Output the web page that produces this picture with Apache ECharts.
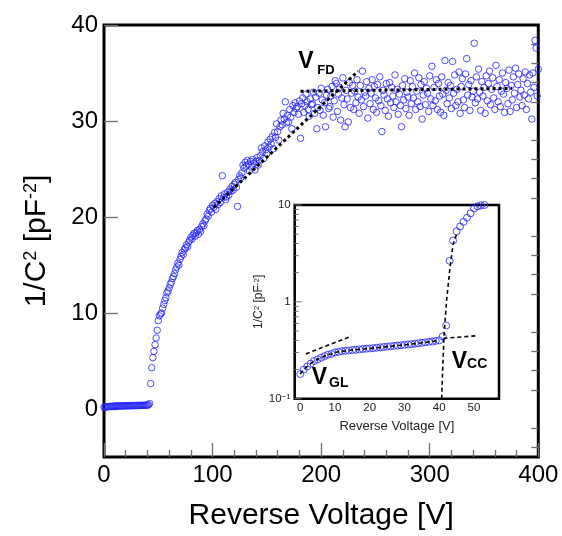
<!DOCTYPE html>
<html><head><meta charset="utf-8">
<script src="https://cdn.jsdelivr.net/npm/echarts@6/dist/echarts.min.js"></script>
<style>html,body{margin:0;padding:0;background:#fff}#c{width:562px;height:536px}</style>
</head><body><div id="c"></div>
<script>
// ---- measured 1/C^2 values, one per volt of the reverse-voltage sweep ----
const sweepStart = 0;   // V
const sweepStep = 1;    // V
// 0 .. 42 V
const capLow = [
  0.18,0.20,0.215,0.23,0.245,0.255,0.265,0.275,0.285,0.29,
  0.30,0.305,0.31,0.312,0.315,0.318,0.32,0.323,0.326,0.328,
  0.33,0.333,0.336,0.339,0.342,0.345,0.348,0.351,0.354,0.357,
  0.36,0.363,0.366,0.37,0.374,0.378,0.382,0.386,0.39,0.395,
  0.40,0.44,0.57
];
// 43 .. 100 V
const capRise = [
  2.65,4.3,5.35,6.0,6.7,7.4,8.2,
  9.2,9.7,9.9,10.0,10.5,10.9,11.3,11.6,12.1,12.3,
  12.6,13.0,13.2,13.6,13.8,14.1,14.5,14.8,15.2,15.0,
  15.6,15.9,16.3,16.1,16.6,16.8,17.1,16.9,17.4,17.6,
  17.9,17.7,18.1,18.3,18.0,18.4,18.6,18.2,18.7,18.5,
  19.0,19.3,19.1,19.6,19.8,20.3,20.1,20.7,20.9,20.5,
  21.2
];
// 101 .. 180 V
const capKnee = [
  21.0,21.4,20.8,21.6,21.3,21.9,21.5,22.2,24.3,
  22.0,22.4,21.8,22.1,22.6,22.3,22.9,22.7,23.2,22.8,
  23.4,23.6,23.1,21.1,23.9,24.3,24.1,24.6,25.4,25.1,
  25.7,25.3,25.9,25.5,24.8,25.8,25.2,26.0,25.6,24.9,
  25.8,26.2,25.4,25.9,26.4,27.2,26.8,26.1,27.4,27.0,
  26.6,27.8,27.3,28.1,27.6,28.4,27.1,28.8,28.3,29.7,
  28.9,28.0,29.4,30.1,29.6,30.8,30.2,32.0,29.8,30.6,
  29.9,31.2,30.4,29.2,31.6,30.9,31.9,31.3,31.5,30.7,
  32.1
];
// 181 .. 300 V
const capPlateau = [
  28.2,31.8,32.4,30.9,31.6,32.8,32.0,31.2,30.5,
  32.3,31.7,31.8,33.0,30.8,32.5,29.2,31.4,32.9,31.1,
  33.4,32.2,30.6,31.9,29.4,32.7,33.3,31.3,31.5,32.6,
  33.6,30.4,32.1,34.2,33.9,31.0,32.8,33.5,30.1,32.4,
  34.5,31.7,29.4,33.2,32.3,29.9,34.0,31.4,32.9,33.7,
  31.2,33.1,31.9,34.3,32.5,30.8,33.7,32.2,35.2,31.5,
  33.0,32.6,34.1,30.3,33.4,31.8,32.9,34.3,31.2,33.6,
  32.4,30.9,33.8,32.1,34.6,31.6,28.9,33.2,32.7,31.1,
  33.9,32.3,30.5,34.0,31.9,33.5,32.6,31.4,34.8,32.0,
  33.3,30.7,32.8,31.6,29.4,33.7,32.2,34.4,31.3,33.0,
  32.5,30.6,34.2,31.8,33.6,32.4,35.0,31.2,33.1,32.0,
  34.5,31.5,33.8,30.2,32.7,34.1,31.7,33.4,32.9,31.0,
  34.7
];
// 301 .. 400 V
const capTail = [
  32.3,35.7,31.6,33.5,32.1,34.3,31.2,33.9,32.6,
  30.9,34.6,32.8,30.6,36.3,33.2,31.8,34.0,32.4,33.7,
  31.3,36.2,32.9,34.8,31.6,33.3,32.0,35.1,30.8,33.6,
  34.4,32.2,31.4,34.9,36.5,32.7,33.8,31.1,34.2,32.5,
  33.1,38.1,31.9,34.6,32.3,35.4,33.0,31.1,34.1,32.6,
  33.5,30.8,34.7,32.1,33.9,35.2,31.7,33.3,34.5,32.4,
  31.2,35.8,33.6,32.0,34.3,31.5,33.1,35.0,32.8,30.9,
  34.0,33.4,31.8,35.3,31.0,33.7,32.2,34.6,32.9,35.5,
  31.4,33.8,34.9,32.5,33.2,31.6,34.4,32.7,35.1,31.2,
  33.9,32.3,34.8,33.0,30.2,35.0,33.5,38.4,37.6,32.6,
  35.4
];

// ---- fit / guide lines ----
const fdRiseX = [101, 234],  fdRiseY = [21.0, 35.2];
const fdFlatX = [181, 376],  fdFlatY = [33.1, 33.4];
const glFitX  = [1.6, 14.8], glFitY  = [0.29, 0.444];
const ccFlatX = [41.2, 50.8], ccFlatY = [0.42, 0.447];
const ccRiseX = [40.7, 41.0, 41.4, 42.1, 43.1, 44.0, 45.0];
const ccRiseY = [0.1, 0.21, 0.46, 1.02, 2.27, 3.96, 5.0];
const alongFitEnd = 40; // V, dashed line following data in inset

// ---- ticks ----
const mainYLabels = [0, 10, 20, 30, 40];
const mainYMinor = [-4,-2,2,4,6,8,12,14,16,18,22,24,26,28,32,34,36,38];
const insetXLabels = [0, 10, 20, 30, 40, 50];
const insetXTicks = [0,2,4,6,8,10,12,14,16,18,20,22,24,26,28,30,32,34,36,38,40,42,44,46,48,50,52,54,56];
const insetYMajor = [0.1, 1, 10];
const insetYMinor = [0.2,0.3,0.4,0.5,0.6,0.7,0.8,0.9,2,3,4,5,6,7,8,9];
const insetXMin = -1.6, insetXMax = 57.2;

// ---- build ----
const capAll = capLow.concat(capRise, capKnee, capPlateau, capTail);
const mainPoints = capAll.map((c, i) => [sweepStart + i * sweepStep, c]);
const insetPoints = mainPoints.filter(p => p[0] <= 57);
const alongPoints = mainPoints.filter(p => p[0] <= alongFitEnd);
const zip = (xs, ys) => xs.map((x, i) => [x, ys[i]]);

const FONT = 'Liberation Sans, Arial, sans-serif';
const blue = '#2222ff';
const tickGrey = '#6e6e6e';

const chart = echarts.init(document.getElementById('c'), null, {renderer: 'canvas'});

const tickSeriesData = insetYMajor.map(v => [insetXMin, v, 7]).concat(insetYMinor.map(v => [insetXMin, v, 4]));

chart.setOption({
  animation: false,
  backgroundColor: '#fff',
  textStyle: {fontFamily: FONT},
  grid: [
    {left: 104, top: 25, width: 434.3, height: 433, show: true, borderColor: '#000', borderWidth: 3, backgroundColor: 'transparent'},
    {left: 294.7, top: 205, width: 204.3, height: 193.7, show: true, borderColor: '#000', borderWidth: 2.5, backgroundColor: '#fff', z: 3}
  ],
  xAxis: [
    {gridIndex: 0, type: 'value', min: 0, max: 400, interval: 100,
      axisLine: {show: false, onZero: false}, splitLine: {show: false},
      axisTick: {show: true, inside: true, length: 14, lineStyle: {color: tickGrey, width: 1.3}},
      minorTick: {show: true, splitNumber: 5, length: 7, lineStyle: {color: tickGrey, width: 1.3}},
      axisLabel: {fontSize: 24, color: '#000', margin: 6, fontFamily: FONT},
      name: 'Reverse Voltage [V]', nameLocation: 'middle', nameGap: 44,
      nameTextStyle: {fontSize: 30, color: '#000', fontFamily: FONT}
    },
    {gridIndex: 1, type: 'value', min: insetXMin, max: insetXMax,
      axisLine: {show: false, onZero: false}, splitLine: {show: false},
      axisTick: {show: true, inside: true, length: 4, customValues: insetXTicks, lineStyle: {color: tickGrey, width: 1}},
      axisLabel: {fontSize: 11.5, color: '#222', margin: 3, customValues: insetXLabels, fontFamily: FONT},
      name: 'Reverse Voltage [V]', nameLocation: 'middle', nameGap: 21,
      nameTextStyle: {fontSize: 13, color: '#222', fontFamily: FONT}
    }
  ],
  yAxis: [
    {gridIndex: 0, type: 'value', min: -5, max: 40,
      axisLine: {show: false, onZero: false}, splitLine: {show: false},
      axisTick: {show: true, inside: true, length: 14, customValues: mainYLabels, lineStyle: {color: tickGrey, width: 1.3}},
      axisLabel: {fontSize: 24, color: '#000', margin: 6, customValues: mainYLabels, fontFamily: FONT},
      name: '1/C{sup|2} [pF{sup|-2}]', nameLocation: 'middle', nameGap: 52,
      nameTextStyle: {fontSize: 30, color: '#000', fontFamily: FONT,
        rich: {sup: {fontSize: 18, verticalAlign: 'top', color: '#000', fontFamily: FONT}}}
    },
    {gridIndex: 0, type: 'value', min: -5, max: 40,
      axisLine: {show: false, onZero: false}, splitLine: {show: false}, axisLabel: {show: false},
      axisTick: {show: true, inside: true, length: 7, customValues: mainYMinor, lineStyle: {color: tickGrey, width: 1.3}}
    },
    {gridIndex: 1, type: 'log', logBase: 10, min: 0.1, max: 10,
      axisLine: {show: false, onZero: false}, splitLine: {show: false}, axisTick: {show: false}, minorTick: {show: false},
      axisLabel: {fontSize: 11.5, color: '#222', margin: 4, fontFamily: FONT,
        formatter: v => (v < 0.5 ? '10{sup|\u22121}' : String(Math.round(v))),
        rich: {sup: {fontSize: 8, verticalAlign: 'top', color: '#222', fontFamily: FONT}}},
      name: '1/C{sup|2} [pF{sup|-2}]', nameLocation: 'middle', nameGap: 21,
      nameTextStyle: {fontSize: 12, color: '#222', fontFamily: FONT,
        rich: {sup: {fontSize: 8, verticalAlign: 'top', color: '#222', fontFamily: FONT}}}
    }
  ],
  series: [
    {type: 'scatter', xAxisIndex: 0, yAxisIndex: 0, data: mainPoints, symbol: 'circle', symbolSize: 6.5,
      itemStyle: {color: 'rgba(0,0,0,0)', borderColor: blue, borderWidth: 1}, z: 2},
    {type: 'line', xAxisIndex: 0, yAxisIndex: 0, data: zip(fdRiseX, fdRiseY), symbol: 'none',
      lineStyle: {color: '#000', width: 3, type: [3, 3], cap: 'butt'}, z: 4},
    {type: 'line', xAxisIndex: 0, yAxisIndex: 0, data: zip(fdFlatX, fdFlatY), symbol: 'none',
      lineStyle: {color: '#000', width: 3, type: [3, 3], cap: 'butt'}, z: 4},
    {type: 'scatter', xAxisIndex: 1, yAxisIndex: 2, data: insetPoints, symbol: 'circle', symbolSize: 7, clip: true,
      itemStyle: {color: 'rgba(0,0,0,0)', borderColor: blue, borderWidth: 1}, z: 5},
    {type: 'line', xAxisIndex: 1, yAxisIndex: 2, data: alongPoints, symbol: 'none',
      lineStyle: {color: '#000', width: 1.6, type: [4, 3]}, z: 6},
    {type: 'line', xAxisIndex: 1, yAxisIndex: 2, data: zip(glFitX, glFitY), symbol: 'none',
      lineStyle: {color: '#000', width: 1.6, type: [4, 3]}, z: 6},
    {type: 'line', xAxisIndex: 1, yAxisIndex: 2, data: zip(ccFlatX, ccFlatY), symbol: 'none',
      lineStyle: {color: '#000', width: 1.6, type: [4, 3]}, z: 6},
    {type: 'line', xAxisIndex: 1, yAxisIndex: 2, data: zip(ccRiseX, ccRiseY), symbol: 'none',
      lineStyle: {color: '#000', width: 1.6, type: [4, 3]}, z: 6},
    {type: 'custom', xAxisIndex: 1, yAxisIndex: 2, data: tickSeriesData, silent: true, clip: false, z: 7,
      renderItem: function (params, api) {
        const p = api.coord([api.value(0), api.value(1)]);
        return {type: 'line', shape: {x1: p[0], y1: p[1], x2: p[0] + api.value(2), y2: p[1]},
          style: {stroke: tickGrey, lineWidth: 1}};
      }}
  ]
});

// ---- annotation labels (placed in data coordinates) ----
const annotations = [
  {s: 0, x: 179, y: 35.33, text: 'V', size: 23},
  {s: 0, x: 196.4, y: 34.8, text: 'FD', size: 13},
  {s: 3, x: 3.3, y: 0.1385, text: 'V', size: 23},
  {s: 3, x: 8.3, y: 0.128, text: 'GL', size: 14},
  {s: 3, x: 43.6, y: 0.198, text: 'V', size: 23},
  {s: 3, x: 48.0, y: 0.205, text: 'CC', size: 14}
];
const graphics = annotations.map(a => {
  const p = chart.convertToPixel({seriesIndex: a.s}, [a.x, a.y]);
  return {type: 'text', z: 100, style: {x: p[0], y: p[1] + a.size * 0.16, text: a.text,
    font: 'bold ' + a.size + 'px ' + FONT, fill: '#000', align: 'left', verticalAlign: 'bottom'}};
});
chart.setOption({graphic: graphics});
</script></body></html>
